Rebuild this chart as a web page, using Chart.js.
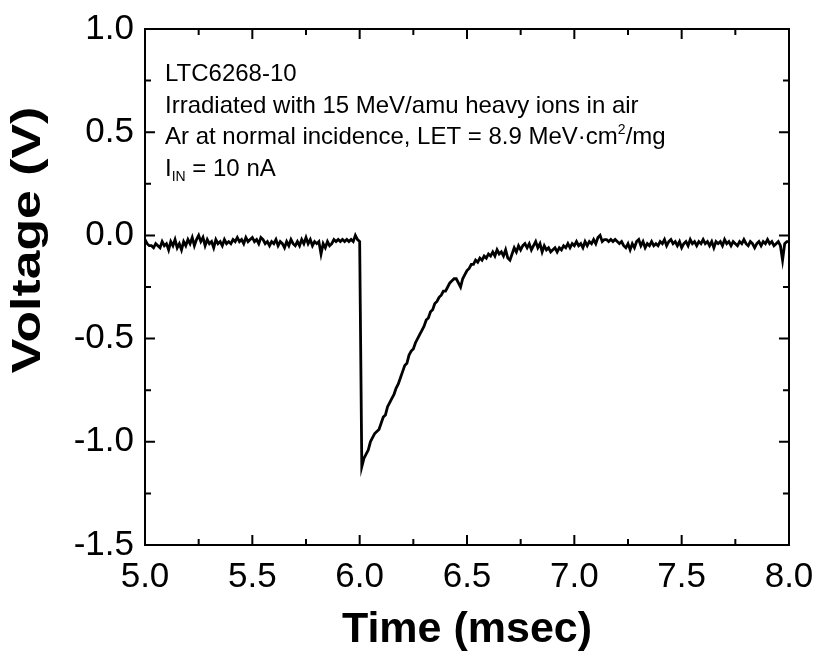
<!DOCTYPE html>
<html lang="en">
<head>
    <meta charset="UTF-8">
    <title>LTC6268-10 heavy ion transient</title>
    <style>
        html, body {margin: 0; padding: 0; background: #fff;}
        .chart-wrap {width: 817px; height: 656px;}
    </style>
</head>
<body>
    <div class="chart-wrap">
        <canvas id="myChart" width="817" height="656"></canvas>
    </div>
    <script src="https://cdn.jsdelivr.net/npm/chart.js@4.4.1/dist/chart.umd.min.js"></script>
    <script>
        // sampling grid of the scope trace (msec)
        const timeStart = 5.0;
        const timeStep = 0.01;

        // output voltage (V), one value per sample
        const voltage = [
            -0.02, -0.04, -0.05, -0.05, -0.06, -0.04, -0.05, -0.06, -0.03, -0.05, // 5.00
            -0.04, -0.07, -0.03, -0.05, -0.02, -0.06, -0.04, -0.07, -0.03, -0.05, // 5.10
            -0.02, -0.04, -0.01, -0.05, -0.02,  0.00, -0.03, -0.01, -0.05, -0.02, // 5.20
            -0.04, -0.03, -0.06, -0.02, -0.04, -0.03, -0.05, -0.02, -0.04, -0.03, // 5.30
            -0.04, -0.02, -0.03, -0.01, -0.03, -0.02, -0.04, -0.01, -0.03, -0.02, // 5.40
            -0.01, -0.03, -0.02, -0.04, -0.01, -0.02, -0.04, -0.03, -0.05, -0.03, // 5.50
            -0.04, -0.02, -0.05, -0.03, -0.04, -0.06, -0.03, -0.05, -0.02, -0.04, // 5.60
            -0.05, -0.03, -0.05, -0.02, -0.04, -0.01, -0.04, -0.02, -0.05, -0.03, // 5.70
            -0.04, -0.03, -0.09, -0.04, -0.06, -0.03, -0.05, -0.04, -0.02, -0.03, // 5.80
            -0.02, -0.03, -0.02, -0.03, -0.02, -0.03, -0.02, -0.03,  0.00, -0.02, // 5.90
            -0.03, -1.12, -1.08, -1.06, -1.04, -1.00, -0.98, -0.96, -0.95, -0.94, // 6.00
            -0.91, -0.88, -0.87, -0.83, -0.81, -0.79, -0.77, -0.74, -0.72, -0.69, // 6.10
            -0.66, -0.63, -0.62, -0.58, -0.56, -0.55, -0.52, -0.50, -0.48, -0.46, // 6.20
            -0.44, -0.41, -0.40, -0.37, -0.36, -0.33, -0.32, -0.30, -0.29, -0.27, // 6.30
            -0.27, -0.25, -0.23, -0.22, -0.21, -0.21, -0.23, -0.25, -0.21, -0.19, // 6.40
            -0.17, -0.16, -0.14, -0.14, -0.12, -0.13, -0.11, -0.12, -0.10, -0.11, // 6.50
            -0.09, -0.10, -0.08, -0.10, -0.07, -0.09, -0.08, -0.10, -0.07, -0.11, // 6.60
            -0.12, -0.09, -0.06, -0.08, -0.05, -0.07, -0.05, -0.04, -0.06, -0.04, // 6.70
            -0.07, -0.05, -0.03, -0.06, -0.04, -0.08, -0.05, -0.07, -0.06, -0.08, // 6.80
            -0.07, -0.06, -0.08, -0.06, -0.07, -0.05, -0.06, -0.04, -0.06, -0.04, // 6.90
            -0.05, -0.03, -0.05, -0.04, -0.06, -0.03, -0.05, -0.03, -0.04, -0.02, // 7.00
            -0.04, -0.01,  0.00, -0.03, -0.02, -0.02, -0.03, -0.02, -0.03, -0.02, // 7.10
            -0.03, -0.04, -0.03, -0.05, -0.06, -0.04, -0.07, -0.04, -0.06, -0.03, // 7.20
            -0.02, -0.05, -0.03, -0.06, -0.04, -0.05, -0.03, -0.05, -0.04, -0.05, // 7.30
            -0.03, -0.04, -0.02, -0.05, -0.03, -0.02, -0.04, -0.03, -0.05, -0.03, // 7.40
            -0.06, -0.04, -0.03, -0.05, -0.02, -0.04, -0.03, -0.05, -0.03, -0.04, // 7.50
            -0.02, -0.04, -0.03, -0.05, -0.03, -0.06, -0.03, -0.04, -0.03, -0.05, // 7.60
            -0.02, -0.04, -0.03, -0.05, -0.03, -0.04, -0.05, -0.03, -0.04, -0.02, // 7.70
            -0.04, -0.05, -0.03, -0.04, -0.06, -0.04, -0.03, -0.05, -0.03, -0.04, // 7.80
            -0.02, -0.04, -0.03, -0.05, -0.04, -0.03, -0.05, -0.12, -0.04, -0.03, // 7.90
            -0.03                                                                 // 8.00
        ];

        // axis ranges and ticks
        const xRange = [5.0, 8.0];
        const yRange = [-1.5, 1.0];
        const xMajor = [5.0, 5.5, 6.0, 6.5, 7.0, 7.5, 8.0];
        const xMinor = [5.25, 5.75, 6.25, 6.75, 7.25, 7.75];
        const yMajor = [-1.5, -1.0, -0.5, 0.0, 0.5, 1.0];
        const yMinor = [-1.25, -0.75, -0.25, 0.25, 0.75];

        const xTitle = 'Time (msec)';
        const yTitle = 'Voltage (V)';

        // text block in the upper left; segments may be raised (sup) or lowered (sub)
        const noteLines = [
            [['LTC6268-10', '']],
            [['Irradiated with 15 MeV/amu heavy ions in air', '']],
            [['Ar at normal incidence, LET = 8.9 MeV\u00b7cm', ''], ['2', 'sup'], ['/mg', '']],
            [['I', ''], ['IN', 'sub'], [' = 10 nA', '']]
        ];

        const FONT = 'Arial, "Liberation Sans", sans-serif';

        const points = voltage.map((v, i) => ({x: +(timeStart + i * timeStep).toFixed(2), y: v}));

        // frame, inward ticks on all four sides, y title and the note text
        const framePlugin = {
            id: 'frame',
            afterDraw(chart) {
                const ctx = chart.ctx;
                const a = chart.chartArea;
                const xs = chart.scales.x, ys = chart.scales.y;
                ctx.save();
                ctx.strokeStyle = '#000';
                ctx.lineWidth = 2;
                ctx.strokeRect(a.left, a.top, a.right - a.left, a.bottom - a.top);

                ctx.beginPath();
                const tick = (list, len) => {
                    list.forEach(v => {
                        const px = xs.getPixelForValue(v);
                        ctx.moveTo(px, a.bottom); ctx.lineTo(px, a.bottom - len);
                        ctx.moveTo(px, a.top); ctx.lineTo(px, a.top + len);
                    });
                };
                const tickY = (list, len) => {
                    list.forEach(v => {
                        const py = ys.getPixelForValue(v);
                        ctx.moveTo(a.left, py); ctx.lineTo(a.left + len, py);
                        ctx.moveTo(a.right, py); ctx.lineTo(a.right - len, py);
                    });
                };
                tick(xMajor, 10); tick(xMinor, 6);
                tickY(yMajor, 10); tickY(yMinor, 6);
                ctx.stroke();

                // y axis title
                ctx.fillStyle = '#000';
                ctx.font = 'bold 45px ' + FONT;
                ctx.textAlign = 'center';
                ctx.textBaseline = 'middle';
                ctx.translate(29, 240);
                ctx.rotate(-Math.PI / 2);
                ctx.scale(1.15, 0.92);
                ctx.fillText(yTitle, 0, 0);
                ctx.restore();

                // note text
                ctx.save();
                ctx.fillStyle = '#000';
                ctx.textBaseline = 'alphabetic';
                ctx.textAlign = 'left';
                const lineTop = 81, lineGap = 31.5;
                noteLines.forEach((segs, li) => {
                    let x = a.left + 20;
                    const base = lineTop + li * lineGap;
                    segs.forEach(([txt, kind]) => {
                        let y = base;
                        if (kind === 'sup') { ctx.font = '14px ' + FONT; y = base - 10; }
                        else if (kind === 'sub') { ctx.font = '14px ' + FONT; y = base + 5; }
                        else ctx.font = '24px ' + FONT;
                        ctx.fillText(txt, x, y);
                        x += ctx.measureText(txt).width;
                    });
                });
                ctx.restore();
            }
        };

        const ctx = document.getElementById('myChart').getContext('2d');

        const config = {
            type: 'line',
            plugins: [framePlugin],
            data: {
                datasets: [{
                    label: 'Vout',
                    data: points,
                    borderColor: '#000',
                    borderWidth: 2.8,
                    pointRadius: 0,
                    tension: 0,
                    fill: false
                }]
            },
            options: {
                responsive: false,
                animation: false,
                events: [],
                layout: {padding: {top: 29, right: 28, left: 0, bottom: 0}},
                plugins: {
                    legend: {display: false},
                    tooltip: {enabled: false}
                },
                scales: {
                    x: {
                        type: 'linear',
                        min: xRange[0], max: xRange[1],
                        grid: {display: false, drawTicks: false},
                        border: {display: false},
                        afterBuildTicks: s => { s.ticks = xMajor.map(v => ({value: v})); },
                        afterFit: s => {
                            s.height = 656 - 29 - 516;
                            s.paddingLeft = 0; s.paddingRight = 0;
                        },
                        ticks: {
                            color: '#000',
                            padding: 11,
                            font: {family: FONT, size: 35},
                            callback: v => v.toFixed(1)
                        },
                        title: {
                            display: true,
                            text: xTitle,
                            color: '#000',
                            padding: {top: 4, bottom: 0},
                            font: {family: FONT, size: 43, weight: 'bold'}
                        }
                    },
                    y: {
                        type: 'linear',
                        min: yRange[0], max: yRange[1],
                        grid: {display: false, drawTicks: false},
                        border: {display: false},
                        afterBuildTicks: s => { s.ticks = yMajor.map(v => ({value: v})); },
                        afterFit: s => {
                            s.width = 145;
                            s.paddingTop = 0; s.paddingBottom = 0;
                        },
                        ticks: {
                            color: '#000',
                            padding: 11,
                            font: {family: FONT, size: 35},
                            callback: v => v.toFixed(1)
                        }
                    }
                }
            }
        };

        const myChart = new Chart(ctx, config);
    </script>
</body>
</html>
